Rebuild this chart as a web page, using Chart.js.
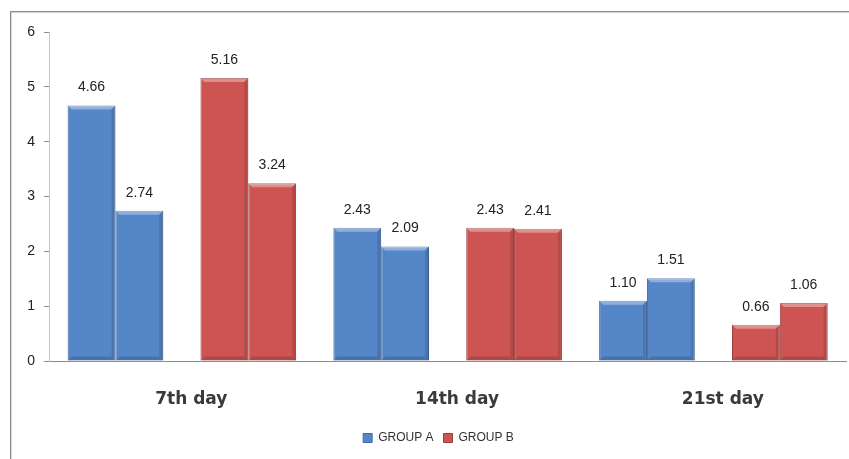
<!DOCTYPE html>
<html>
<head>
<meta charset="utf-8">
<script src="https://cdn.jsdelivr.net/npm/chart.js@4.4.1/dist/chart.umd.min.js"></script>
<style>
  html, body { margin: 0; padding: 0; background: #fff; }
  #wrap { position: relative; width: 849px; height: 459px; overflow: hidden; }
  #frame {
    position: absolute; left: 10px; top: 11px; right: -5px; bottom: -5px;
    border-left: 1px solid #8c8c8c; border-top: 1px solid #8c8c8c;
    box-shadow: inset 1px 1px 0 #d6d6d6;
  }
  canvas { position: absolute; left: 0; top: 0; }
</style>
</head>
<body>
<div id="wrap">
  <div id="frame"></div>
  <canvas id="chart" width="849" height="459"></canvas>
</div>
<script>
// Data
const dayLabels = ["7th day", "14th day", "21st day"];
const groupNames = ["GROUP A", "GROUP B"];
// six slots: A/B for each day
const slotGroups = [0, 1, 0, 1, 0, 1];
const firstBar = [4.66, 5.16, 2.43, 2.43, 1.10, 0.66];
const secondBar = [2.74, 3.24, 2.09, 2.41, 1.51, 1.06];
const yTicks = [0, 1, 2, 3, 4, 5, 6];

const groupColors = ["#5586c8", "#cd5452"];
const groupBorders = ["#3f6aa2", "#9c3f3d"];

const slotColor = (ctx) => groupColors[slotGroups[ctx.dataIndex]];
const slotBorder = (ctx) => groupBorders[slotGroups[ctx.dataIndex]];

// Excel-ish bevel on the bars
const bevel = {
  id: "bevel",
  afterDatasetsDraw(chart) {
    const ctx = chart.ctx;
    ctx.save();
    chart.data.datasets.forEach((ds, di) => {
      chart.getDatasetMeta(di).data.forEach((bar) => {
        const l = bar.x - bar.width / 2, r = bar.x + bar.width / 2;
        const t = bar.y, b = bar.base, e = 4;
        // top highlight
        ctx.fillStyle = "rgba(255,255,255,0.35)";
        ctx.beginPath();
        ctx.moveTo(l, t); ctx.lineTo(r, t); ctx.lineTo(r - e, t + e); ctx.lineTo(l + e, t + e);
        ctx.closePath(); ctx.fill();
        // right shade
        ctx.fillStyle = "rgba(0,0,0,0.12)";
        ctx.beginPath();
        ctx.moveTo(r, t); ctx.lineTo(r, b); ctx.lineTo(r - e, b - e); ctx.lineTo(r - e, t + e);
        ctx.closePath(); ctx.fill();
        // bottom shade
        ctx.fillStyle = "rgba(0,0,0,0.15)";
        ctx.beginPath();
        ctx.moveTo(l, b); ctx.lineTo(r, b); ctx.lineTo(r - e, b - e); ctx.lineTo(l + e, b - e);
        ctx.closePath(); ctx.fill();
      });
    });
    ctx.restore();
  },
};

// value labels above each bar
const valueLabels = {
  id: "valueLabels",
  afterDatasetsDraw(chart) {
    const ctx = chart.ctx;
    ctx.save();
    ctx.font = "14px 'Liberation Sans', Arial, sans-serif";
    ctx.fillStyle = "#222";
    ctx.textAlign = "center";
    ctx.textBaseline = "middle";
    chart.data.datasets.forEach((ds, di) => {
      chart.getDatasetMeta(di).data.forEach((bar, i) => {
        ctx.fillText(ds.data[i].toFixed(2), bar.x, bar.y - 18);
      });
    });
    ctx.restore();
  },
};

// nudge the legend a little right, as in the original
const legendShift = {
  id: "legendShift",
  afterLayout(chart) {
    chart.legend.left += 10;
    chart.legend.right += 10;
  },
};

new Chart(document.getElementById("chart"), {
  type: "bar",
  data: {
    labels: slotGroups.map((g, i) => groupNames[g] + " " + dayLabels[Math.floor(i / 2)]),
    datasets: [
      { label: "first", data: firstBar, backgroundColor: slotColor, borderColor: slotBorder, borderWidth: 1 },
      { label: "second", data: secondBar, backgroundColor: slotColor, borderColor: slotBorder, borderWidth: 1 },
    ],
  },
  options: {
    responsive: false,
    animation: false,
    categoryPercentage: 0.72,
    barPercentage: 1.0,
    layout: { padding: { left: 10, right: 2, top: 32, bottom: 5 } },
    scales: {
      x: {
        grid: { display: true, drawOnChartArea: false, drawTicks: false },
        border: { color: "#8c8c8c" },
        ticks: {
          autoSkip: false,
          maxRotation: 0,
          padding: 28,
          labelOffset: -57,
          color: "#3a3a3a",
          font: { family: "'DejaVu Sans', Verdana, sans-serif", size: 17, weight: "bold" },
          callback: (v, i) => (i % 2 === 1 ? dayLabels[(i - 1) / 2] : ""),
        },
        afterFit: (scale) => { scale.height = 61; },
      },
      y: {
        min: 0,
        max: 6,
        afterBuildTicks: (scale) => { scale.ticks = yTicks.map((v) => ({ value: v })); },
        grid: { drawOnChartArea: false, tickLength: 5, tickColor: "#8c8c8c" },
        border: { color: "#c4c4c4" },
        ticks: {
          padding: 9,
          color: "#222",
          font: { family: "'Liberation Sans', Arial, sans-serif", size: 14 },
        },
        afterFit: (scale) => { scale.width = 39; },
      },
    },
    plugins: {
      tooltip: { enabled: false },
      legend: {
        position: "bottom",
        labels: {
          boxWidth: 9,
          boxHeight: 9,
          padding: 10,
          color: "#333",
          font: { family: "'Liberation Sans', Arial, sans-serif", size: 12 },
          generateLabels: () =>
            groupNames.map((name, i) => ({
              text: name,
              fillStyle: groupColors[i],
              strokeStyle: groupBorders[i],
              lineWidth: 1,
              hidden: false,
              fontColor: "#333",
            })),
        },
      },
    },
  },
  plugins: [bevel, valueLabels, legendShift],
});
</script>
</body>
</html>
